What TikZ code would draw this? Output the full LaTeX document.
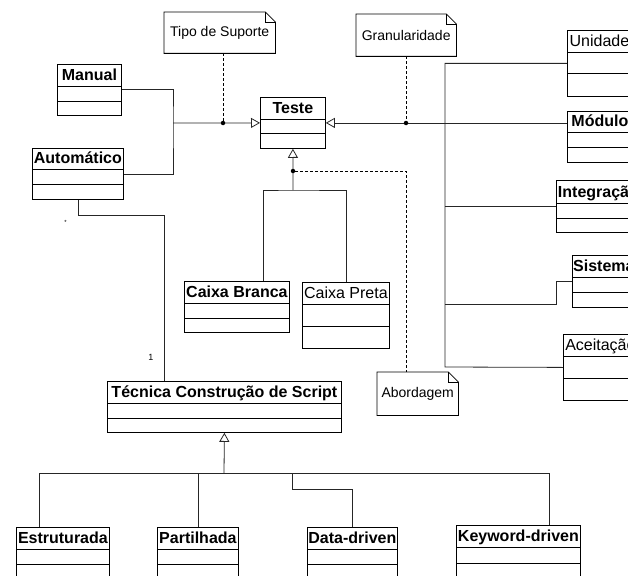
\documentclass[tikz,border=0pt]{standalone}
\usepackage{fontspec}
\setmainfont{Liberation Sans}
\usetikzlibrary{arrows.meta,calc}
\tikzset{
  clsbox/.style={draw=black, line width=0.8pt, fill=white, inner sep=0pt},
  clsline/.style={draw=black, line width=0.8pt},
  conn/.style={draw=black!85, line width=0.8pt},
  gen/.style={conn, -{Triangle[open, length=9pt, width=10pt]}},
  anchorline/.style={draw=black, line width=0.7pt, dash pattern=on 3pt off 2pt},
  notebox/.style={inner sep=0pt, font=\fontsize{14}{16}\selectfont},
  jdot/.style={circle, fill=black, inner sep=0pt, minimum size=4.5pt},
  mult/.style={inner sep=0pt, font=\fontsize{9}{10}\selectfont}
}
\newcommand\bfn{\fontsize{16}{18}\selectfont\bfseries}
\newcommand\rgn{\fontsize{16}{18}\selectfont}
% name, x, y, width, h1, h2, h3, font, text
\newcommand\umlcls[9]{%
  \node[clsbox, minimum width=#4pt, minimum height={(#5+#6+#7)*1pt}, anchor=north west] (#1) at (#2,#3) {};
  \draw[clsline] ([yshift=-#5pt]#1.north west) -- ([yshift=-#5pt]#1.north east);
  \draw[clsline] ([yshift={-(#5+#6)*1pt}]#1.north west) -- ([yshift={-(#5+#6)*1pt}]#1.north east);
  \node[anchor=base, inner sep=0pt, font=#8] at ([yshift={-(#5-5.5)*1pt}]#1.north) {#9};
}
% name, x1, y1, x2, y2, text
\newcommand\umlnote[6]{%
  \node[notebox, minimum width={(#4-#2)*1pt}, minimum height={(#5-#3)*1pt}, anchor=north west] (#1) at (#2,#3) {#6};
  \draw[clsline, line join=miter] (#1.north west) -- ([xshift=-10pt]#1.north east) -- ([yshift=-10pt]#1.north east) -- (#1.south east) -- (#1.south west) -- cycle;
  \draw[clsline] ([xshift=-10pt]#1.north east) -- ([xshift=-10pt,yshift=-10pt]#1.north east) -- ([yshift=-10pt]#1.north east);
}
\begin{document}
\begin{tikzpicture}[x=1pt, y=-1pt]
\useasboundingbox (0,0) rectangle (628,575);
\clip (0,0) rectangle (628,575);

% notes
\umlnote{tipo}{164}{12}{275}{53}{Tipo de Suporte}
\umlnote{gran}{356}{14}{456}{56}{Granularidade}
\umlnote{abord}{377}{372}{458}{415}{Abordagem}

% classes
\umlcls{manual}{57}{64}{64}{22}{15}{14}{\bfn}{Manual}
\umlcls{auto}{32}{148}{91}{21}{15}{15}{\bfn}{Automático}
\umlcls{teste}{260}{97}{65}{22}{14}{15}{\bfn}{Teste}
\umlcls{unid}{567}{30}{64}{22}{21}{23}{\rgn}{Unidade}
\umlcls{modulo}{567}{111}{65}{21}{15}{15}{\bfn}{Módulo}
\umlcls{integ}{556}{180}{84}{23}{15}{14}{\bfn}{Integração}
\umlcls{sist}{572}{255}{63}{22}{15}{15}{\bfn}{Sistema}
\umlcls{aceit}{563}{334}{74}{22}{22}{22}{\rgn}{Aceitação}
\umlcls{cbranca}{184}{281}{105}{22}{15}{14}{\bfn}{Caixa Branca}
\umlcls{cpreta}{302}{282}{87}{22}{22}{22}{\rgn}{Caixa Preta}
\umlcls{tecnica}{107}{381}{234}{22}{15}{14}{\bfn}{Técnica Construção de Script}
\umlcls{estrut}{16}{527}{93}{22}{15}{20}{\bfn}{Estruturada}
\umlcls{partil}{157}{527}{81}{22}{15}{20}{\bfn}{Partilhada}
\umlcls{datad}{307}{527}{90}{22}{15}{20}{\bfn}{Data-driven}
\umlcls{keyd}{456}{525}{124}{22}{16}{20}{\bfn}{Keyword-driven}

% Tipo de Suporte: Manual / Automático -> Teste
\coordinate (js) at (173,123);
\draw[conn] (manual.east) -| (js) |- (auto.east);
\draw[gen] (js) -- (teste.west);
\node[jdot] (d1) at (223,123) {};
\draw[anchorline] (tipo.south -| d1) -- (d1);

% Granularidade: levels -> Teste
\coordinate (mj) at (teste.east -| modulo.west);
\draw[gen] (mj) -- (teste.east);
\node[jdot] (d2) at (406,123) {};
\draw[anchorline] (gran.south -| d2) -- (d2);
\coordinate (vtop) at (445,62);
\coordinate (vbot) at (445,367);
\draw[conn] (unid.west) -- (unid.west -| vtop) -- (vbot) -- (aceit.west);
\draw[conn] (integ.west -| vtop) -- (integ.west);
\coordinate (sb) at (556,304);
\draw[conn] (sb -| vtop) -- (sb) |- (sist.west);

% Abordagem: Caixa Branca / Caixa Preta -> Teste
\coordinate (ab) at (293,190);
\draw[gen] (ab) -- (teste.south);
\coordinate (cbx) at (263,190);
\draw[conn] (cbranca.north -| cbx) -- (cbx) -- (ab) -| (cpreta.north);
\node[jdot] (d3) at (293,171) {};
\draw[anchorline] (d3) -- (406,171) -- (abord.north -| d2);

% Automático -- Técnica
\coordinate (ta) at (164,215);
\draw[conn] (auto.south) |- (ta) -- (tecnica.north -| ta);
\node[mult, font=\fontsize{6}{7}\selectfont] (m1) at (65.5,222) {*};
\node[mult] (m2) at (151,357) {1};

% Técnica generalization
\coordinate (tb) at (224,473);
\draw[gen] (tb) -- (tecnica.south);
\coordinate (tl) at (39,473);
\coordinate (tr) at (549,473);
\coordinate (dd) at (292,489);
\draw[conn] (estrut.north -| tl) -- (tl) -- (tr) -- (keyd.north -| tr);
\draw[conn] (partil.north) -- (partil.north |- tb);
\draw[conn] (dd |- tb) -- (dd) -| (datad.north);
\end{tikzpicture}
\end{document}
